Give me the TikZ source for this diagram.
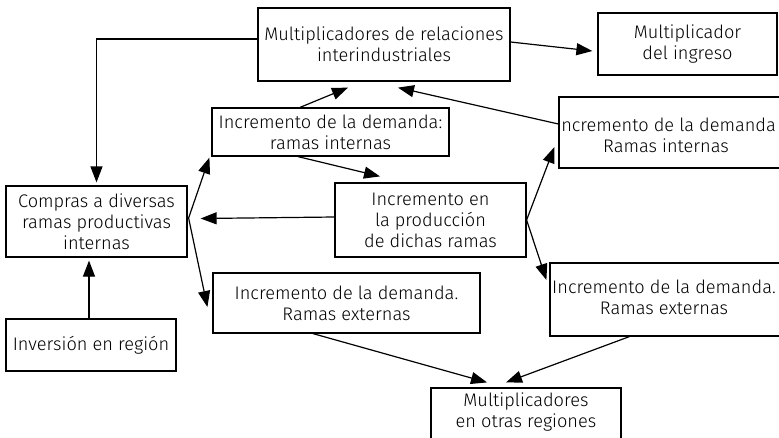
\documentclass[tikz,border=0pt]{standalone}
\usepackage{fontspec}
\setmainfont{Fira Sans}[UprightFont=* Light]
\usetikzlibrary{arrows.meta,calc}
\begin{document}
\begin{tikzpicture}[x=1pt,y=-1pt,
  txt/.style={font=\fontsize{18.2}{21}\selectfont},
  box/.style={draw, line width=1.2pt, inner sep=0pt, align=center, txt},
  lbl/.style={inner sep=0pt, align=center, txt},
  arr/.style={line width=1.2pt, -{Triangle[length=16pt,width=12pt]}}]
\useasboundingbox (0,0) rectangle (779,437);
\clip (0,0) rectangle (779,437);
% boxes
\node[box, minimum width=252pt, minimum height=73pt] (top) at (384,44.5) {Multiplicadores de relaciones\\interindustriales};
\node[box, minimum width=179pt, minimum height=62pt] (mi) at (687.5,44) {Multiplicador\\del ingreso};
\node[box, minimum width=237pt, minimum height=48pt] (di) at (330.5,132) {Incremento de la demanda:\\ramas internas};
\node[box, minimum width=241pt, minimum height=71pt] (ri) at (679.5,132.5) {};
\node[lbl] (ritxt) at (666,135) {Incremento de la demanda\\Ramas internas};
\node[box, minimum width=181pt, minimum height=71pt] (co) at (96.5,221.5) {Compras a diversas\\ramas productivas\\internas};
\node[box, minimum width=191pt, minimum height=74pt] (pr) at (430.5,220) {Incremento en\\la producción\\de dichas ramas};
\node[box, minimum width=267pt, minimum height=60pt] (de) at (346.5,303) {Incremento de la demanda.\\Ramas externas};
\node[box, minimum width=250pt, minimum height=73pt] (re) at (675,299.5) {};
\node[lbl] (retxt) at (664,297) {Incremento de la demanda.\\Ramas externas};
\node[box, minimum width=170pt, minimum height=52pt] (inv) at (91,345) {Inversión en región};
\node[box, minimum width=190pt, minimum height=72pt] (mo) at (526,424) {};
\node[lbl] (motxt) at (526,412.5) {Multiplicadores\\en otras regiones};
% connectors
\draw[arr] ($(top.west)+(0,-5.5)$) -| ($(co.north)+(0,-3)$);
\draw[arr] ($(top.east)+(0,-2.5)$) -- ($(mi.west)+(-5,7)$);
\draw[arr] ($(di.north)+(-30.5,0)$) -- ($(top.south)+(-36,6)$);
\draw[arr] ($(ri.west)+(0,-8.5)$) -- ($(top.south)+(14,6)$);
\draw[arr] ($(co.east)+(1,-3.5)$) -- ($(di.south west)+(-2,1)$);
\draw[arr] ($(co.east)+(1,-3.5)$) -- ($(de.west)+(-5,4)$);
\draw[arr] ($(pr.west)+(0,-3)$) -- ($(co.east)+(13,-3)$);
\draw[arr] ($(di.south)+(-32.5,0)$) -- ($(pr.north)+(-50.5,-6)$);
\draw[arr] (pr.east) -- ($(ri.west)+(-4,14.5)$);
\draw[arr] (pr.east) -- ($(re.west)+(-3,-19.5)$);
\draw[arr] ($(de.south)+(-33.5,0)$) -- ($(mo.north)+(-39,-5)$);
\draw[arr] ($(re.south west)+(80,0)$) -- ($(mo.north)+(-20,-5)$);
\draw[arr] ($(inv.north)+(-2,0)$) -- ($(co.south)+(-7.5,3)$);
\end{tikzpicture}
\end{document}
